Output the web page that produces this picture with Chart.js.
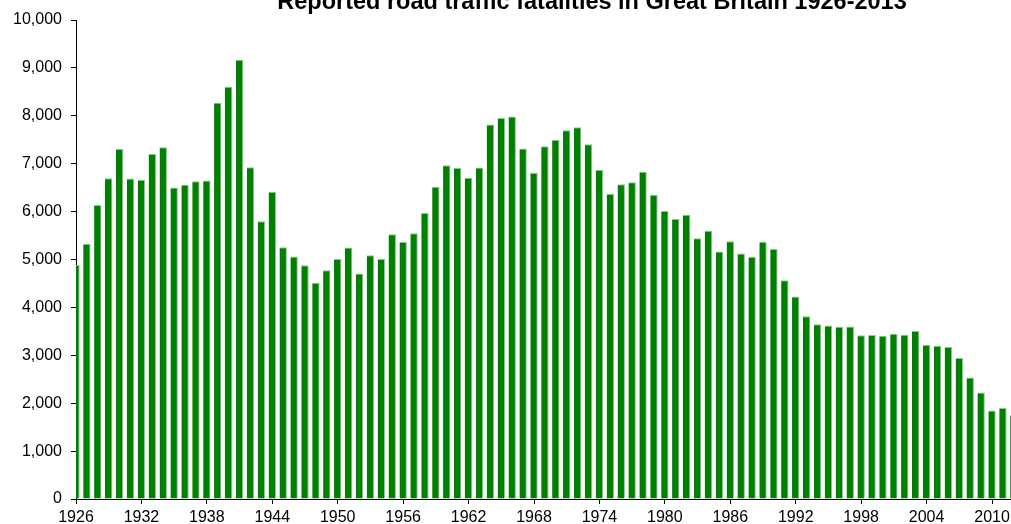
<!DOCTYPE html>
<html lang="en">
<head>
    <meta charset="UTF-8">
    <title>Reported road traffic fatalities in Great Britain 1926-2013</title>
    <style>
        html, body {
            margin: 0;
            padding: 0;
            background: #fff;
            overflow: hidden;
        }
        #chartBox {
            width: 1011px;
            height: 524px;
        }
    </style>
    <script src="https://cdn.jsdelivr.net/npm/chart.js@4/dist/chart.umd.min.js"></script>
</head>
<body>
    <div id="chartBox">
        <canvas id="roadChart" width="1011" height="524"></canvas>
    </div>

    <script>
        // Data
        const titleText = "Reported road traffic fatalities in Great Britain 1926-2013";

        const years = [];
        for (let y = 1926; y <= 2013; y++) years.push(y);

        const fatalities = [
            4886, 5329, 6138, 6696, 7305, 6691, 6667, 7202, 7343, 6502,   // 1926-1935
            6561, 6633, 6648, 8272, 8609, 9169, 6926, 5796, 6416, 5256,   // 1936-1945
            5062, 4881, 4513, 4773, 5012, 5250, 4706, 5090, 5010, 5526,   // 1946-1955
            5367, 5550, 5970, 6520, 6970, 6908, 6709, 6922, 7820, 7952,   // 1956-1965
            7985, 7319, 6810, 7365, 7499, 7699, 7763, 7406, 6876, 6366,   // 1966-1975
            6570, 6614, 6831, 6352, 6010, 5846, 5934, 5445, 5599, 5165,   // 1976-1985
            5382, 5125, 5052, 5373, 5217, 4568, 4229, 3814, 3650, 3621,   // 1986-1995
            3598, 3599, 3421, 3423, 3409, 3450, 3431, 3508, 3221, 3201,   // 1996-2005
            3172, 2946, 2538, 2222, 1850, 1901, 1754, 1713                // 2006-2013
        ];

        const yTicks = { min: 0, max: 10000, step: 1000 };
        const xTicks = { first: 1926, step: 6 };

        const fontFamily = '"Liberation Sans", Arial, sans-serif';

        // title sits partly above the top of the picture, like the reference
        const titlePlugin = {
            id: 'cutTitle',
            afterDraw(chart) {
                const ctx = chart.ctx;
                ctx.save();
                ctx.font = 'bold 23.5px ' + fontFamily;
                ctx.fillStyle = '#000';
                ctx.textAlign = 'center';
                ctx.textBaseline = 'alphabetic';
                ctx.fillText(titleText, 592, 9);
                ctx.restore();
            }
        };

        const points = years.map((yr, i) => ({ x: yr, y: fatalities[i] }));

        new Chart(document.getElementById('roadChart'), {
            type: 'bar',
            data: {
                datasets: [{
                    label: 'Fatalities',
                    data: points,
                    backgroundColor: '#008000',
                    borderColor: '#8cc88c',
                    borderWidth: { top: 1, right: 1, left: 0, bottom: 0 },
                    borderSkipped: 'start',
                    categoryPercentage: 1,
                    barPercentage: 0.68,
                    clip: 0
                }]
            },
            options: {
                responsive: false,
                animation: false,
                devicePixelRatio: 1,
                layout: { padding: { top: 20, left: 0, right: 0, bottom: 0 } },
                plugins: {
                    legend: { display: false },
                    tooltip: { enabled: false },
                    title: { display: false }
                },
                scales: {
                    x: {
                        type: 'linear',
                        offset: false,
                        min: xTicks.first,
                        max: 2011.74,
                        grid: {
                            offset: false,
                            drawOnChartArea: false,
                            drawTicks: true,
                            tickLength: 5,
                            color: '#000'
                        },
                        border: { display: true, color: '#000', width: 1 },
                        ticks: {
                            stepSize: xTicks.step,
                            includeBounds: false,
                            autoSkip: false,
                            maxRotation: 0,
                            padding: 0,
                            color: '#000',
                            font: { family: fontFamily, size: 16, lineHeight: 1.75 },
                            callback: v => String(v)
                        },
                        afterFit(scale) { scale.height = 25; }
                    },
                    y: {
                        min: yTicks.min,
                        max: yTicks.max,
                        grid: {
                            drawOnChartArea: false,
                            drawTicks: true,
                            tickLength: 5,
                            color: '#000'
                        },
                        border: { display: true, color: '#000', width: 1 },
                        ticks: {
                            stepSize: yTicks.step,
                            padding: 9,
                            color: '#000',
                            font: { family: fontFamily, size: 16 },
                            callback: v => v.toLocaleString('en-US')
                        },
                        afterFit(scale) { scale.width = 76; }
                    }
                }
            },
            plugins: [titlePlugin]
        });
    </script>
</body>
</html>
